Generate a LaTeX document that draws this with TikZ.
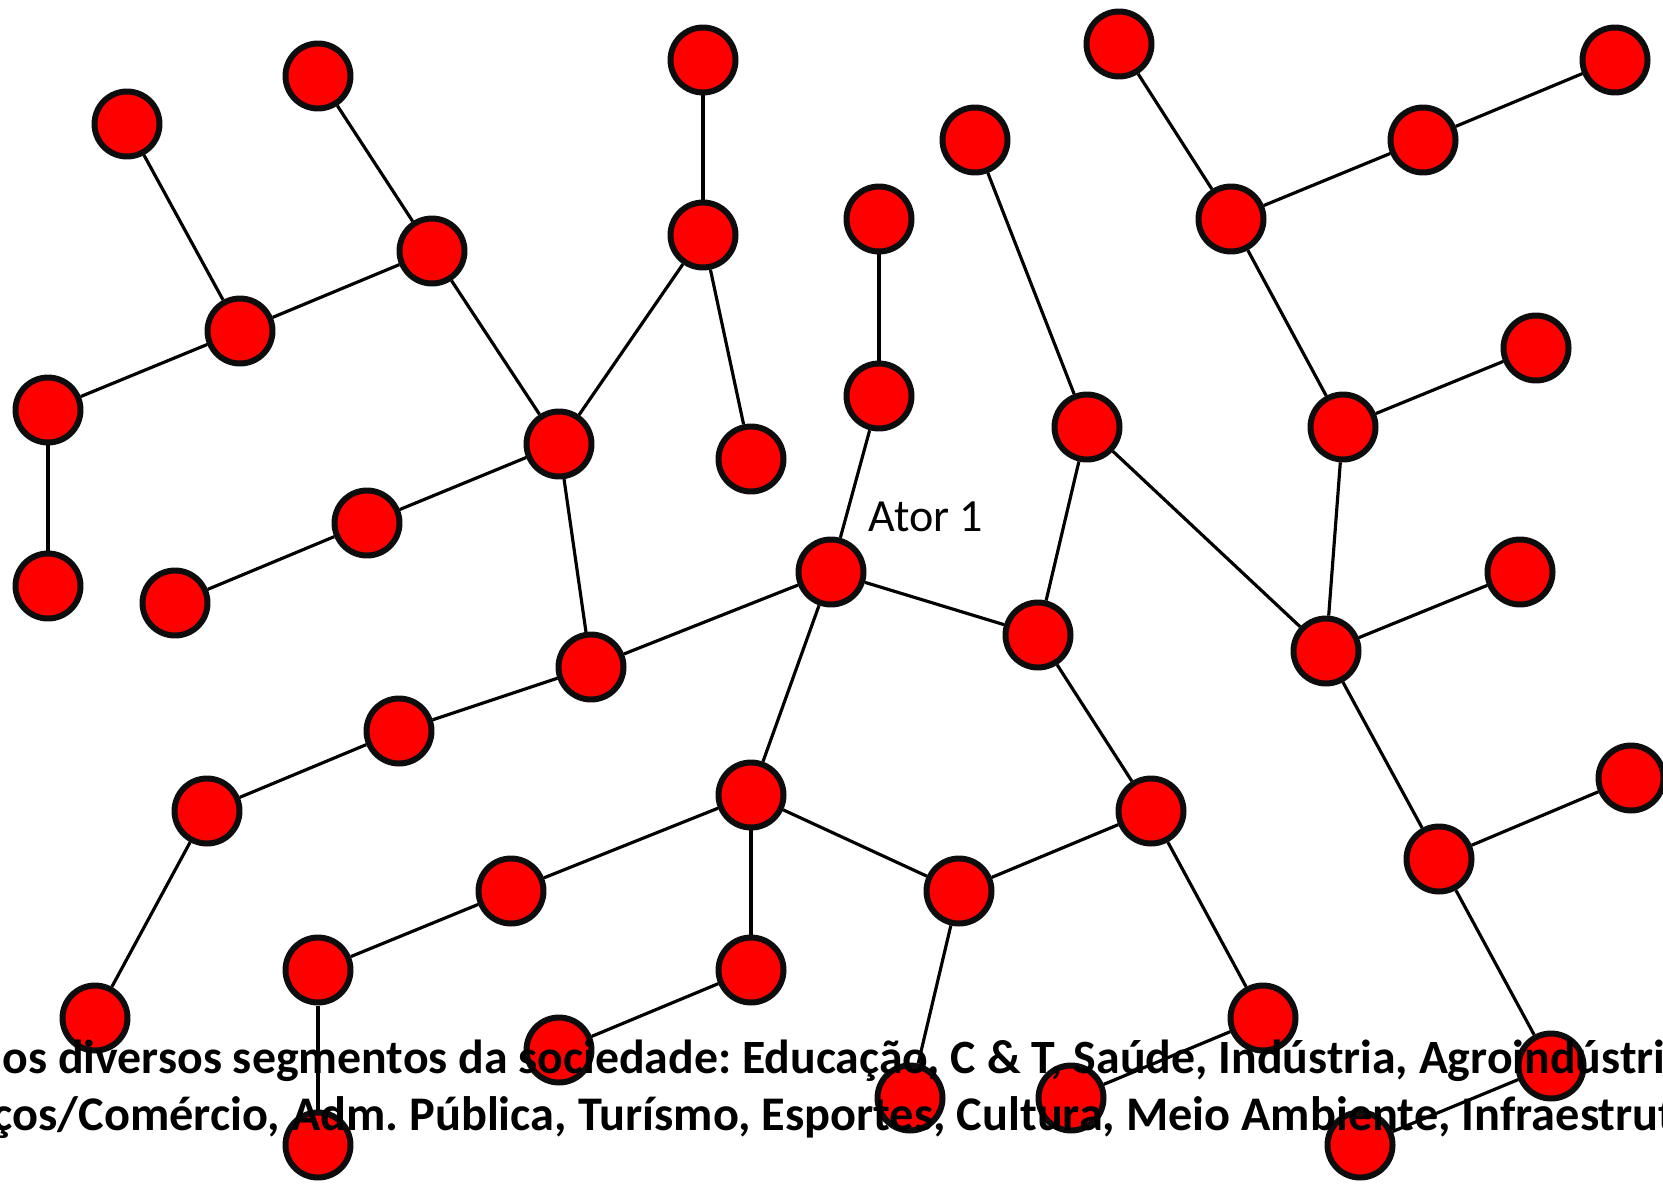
\documentclass[tikz,border=0pt]{standalone}
\usepackage{fontspec}
\setmainfont{Carlito}
\frenchspacing
\tikzset{
  ator/.style={circle, draw=black!95, fill=red, line width=1.7pt, minimum size=0.65cm, inner sep=0pt},
  ligacao/.style={line width=0.9pt, black},
  segmentos/.style={font=\fontsize{13.6}{16}\selectfont\bfseries, inner sep=0pt, anchor=base west}
}
\begin{document}
\begin{tikzpicture}
\useasboundingbox (0,0) rectangle (16.63,11.91);
\clip (0,0) rectangle (16.63,11.91);
% atores da rede
\foreach \x/\y [count=\i] in {
  1.27/10.67, 3.18/11.15, 7.03/11.31, 11.19/11.47, 16.15/11.31,
  9.75/10.51, 14.23/10.51, 4.32/9.40, 7.03/9.56, 8.79/9.72,
  12.31/9.72, 2.40/8.60, 15.36/8.43, 0.48/7.81, 8.79/7.95,
  10.87/7.64, 13.43/7.64, 5.59/7.47, 7.51/7.32, 3.67/6.68,
  0.48/6.05, 1.75/5.88, 8.31/6.19, 15.20/6.19, 10.38/5.56,
  13.26/5.40, 5.91/5.24, 3.99/4.60, 7.51/3.96, 16.31/4.13,
  11.51/3.80, 2.07/3.80, 14.39/3.32, 5.11/3.00, 9.59/3.00,
  3.18/2.21, 7.51/2.21, 0.95/1.73, 12.63/1.73, 5.59/1.41,
  9.10/0.93, 10.71/0.93, 15.51/1.25, 3.18/0.46, 13.60/0.46}
  \node[ator] (n\i) at (\x,\y) {};
% ligacoes
\foreach \a/\b in {1/12, 2/8, 8/12, 12/14, 14/21, 8/18, 3/9, 9/18, 9/19,
  18/20, 20/22, 18/27, 10/15, 15/23, 23/27, 27/28, 28/32, 32/38,
  23/29, 23/25, 29/34, 34/36, 36/44, 29/37, 37/40, 29/35, 35/31,
  31/25, 25/16, 16/6, 16/26, 4/11, 11/7, 7/5, 11/17, 17/13, 17/26,
  26/24, 26/33, 33/30, 33/43, 43/45, 35/41, 31/39, 39/42}
  \draw[ligacao] (n\a) -- (n\b);
\node[font=\fontsize{13.1}{16}\selectfont] (rotulo) at (9.26,6.74) {Ator 1};
% texto de rodape
\node[segmentos] (linha1) at (0.02,1.18) {os diversos segmentos da sociedade: Educação, C \& T, Saúde, Indústria, Agroindústri};
\node[segmentos, font=\fontsize{13.75}{16}\selectfont\bfseries] (linha2) at (-0.08,0.61) {ços/Comércio, Adm. Pública, Turísmo, Esportes, Cultura, Meio Ambiente, Infraestrut};
\end{tikzpicture}
\end{document}
